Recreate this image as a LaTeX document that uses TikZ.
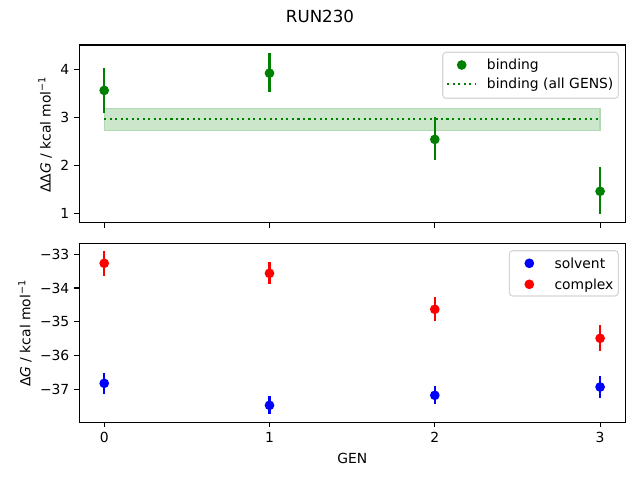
\documentclass[tikz,border=0pt]{standalone}
\usepackage{fontspec}
\setmainfont{DejaVu Sans}
\definecolor{mplgreen}{RGB}{0,128,0}
\definecolor{mplblue}{RGB}{0,0,255}
\definecolor{mplred}{RGB}{255,0,0}
\definecolor{bandfill}{RGB}{204,230,204}
\definecolor{bandedge}{RGB}{178,217,178}
\definecolor{legedge}{RGB}{214,214,214}
\begin{document}
\begin{tikzpicture}[x=0.72pt,y=-0.72pt,
  font=\fontsize{10}{12}\selectfont,
  tl/.style={inner sep=0pt},
  axframe/.style={line width=0.8pt,draw=black},
  tickmark/.style={line width=0.8pt},
  ebar/.style={line width=1.5pt},
  dotmark/.style={circle,inner sep=0pt,minimum size=7pt},
  legbox/.style={draw=legedge,fill=white,rounded corners=2.5pt,line width=0.8pt}]
\useasboundingbox (0,0) rectangle (640,480);

% title
\node[tl,anchor=north,font=\fontsize{12}{14}\selectfont] (title) at (320,10) {RUN230};

% ---------------- top axes ----------------
\fill[bandfill] (104.2,108.2) rectangle (600.1,130.3);
\draw[bandedge,line width=1pt] (104.2,108.2) rectangle (600.1,130.3);
\draw[mplgreen,line width=1.5pt,dash pattern=on 1.5pt off 2.475pt] (104.2,118.7) -- (600.1,118.7);

\foreach \n/\x/\y/\a/\b in {g0/104.2/90.4/68.3/112.5, g1/269.5/73.2/53.0/92.3, g2/434.8/139.4/117.3/159.6, g3/600.1/191.3/167.1/214.3}{
  \coordinate (\n t) at (\x,\a);
  \coordinate (\n b) at (\x,\b);
  \draw[mplgreen,ebar] (\n t) -- (\n b);
  \node[dotmark,fill=mplgreen] (\n) at (\x,\y) {};
}

\draw[axframe] (79.3,45) rectangle (625.3,222.7);
\foreach \x [count=\i] in {104.2,269.5,434.8,600.1}{
  \draw[tickmark] (\x,222.7) -- (\x,227.6);
}
\foreach \y/\l in {69.3/4,117.3/3,165.3/2,213.3/1}{
  \draw[tickmark] (79.3,\y) -- (74.4,\y);
  \node[tl,anchor=east] (ty\l) at (69.6,\y) {\l};
}
\node[tl,rotate=90,anchor=base] (ylabtop) at (50.5,134.5) {ΔΔ\textit{G} / kcal mol\textsuperscript{−1}};

% legend top
\draw[legbox] (442.7,52.3) rectangle (618.3,98.3);
\node[dotmark,fill=mplgreen] (lgbind) at (461.7,65) {};
\node[tl,anchor=base west] (ltbind) at (486.7,69.5) {binding};
\coordinate (lls) at (447.3,84);
\coordinate (lle) at (475.3,84);
\draw[mplgreen,line width=1.5pt,dash pattern=on 1.5pt off 2.475pt] (lls) -- (lle);
\node[tl,anchor=base west] (ltall) at (486.7,88.5) {binding (all GENS)};

% ---------------- bottom axes ----------------
\foreach \n/\x/\y/\a/\b in {c0/104.2/263.3/251.0/275.7, c1/269.5/273.3/262.0/283.7, c2/434.8/309.3/297.0/320.7, c3/600.1/338.3/325.0/350.7}{
  \coordinate (\n t) at (\x,\a);
  \coordinate (\n b) at (\x,\b);
  \draw[mplred,ebar] (\n t) -- (\n b);
  \node[dotmark,fill=mplred] (\n) at (\x,\y) {};
}
\foreach \n/\x/\y/\a/\b in {s0/104.2/383.3/373.0/393.7, s1/269.5/405.3/396.0/413.7, s2/434.8/395.3/386.0/403.7, s3/600.1/387.0/376.0/397.7}{
  \coordinate (\n t) at (\x,\a);
  \coordinate (\n b) at (\x,\b);
  \draw[mplblue,ebar] (\n t) -- (\n b);
  \node[dotmark,fill=mplblue] (\n) at (\x,\y) {};
}

\draw[axframe] (79.3,243.7) rectangle (625.3,422.3);
\foreach \x/\l in {104.2/0,269.5/1,434.8/2,600.1/3}{
  \draw[tickmark] (\x,422.3) -- (\x,427.2);
  \node[tl,anchor=north] (tx\l) at (\x,432.4) {\l};
}
\foreach \y/\l in {254.3/33,288.05/34,321.8/35,355.55/36,389.3/37}{
  \draw[tickmark] (79.3,\y) -- (74.4,\y);
  \node[tl,anchor=east] (tb\l) at (69.6,\y) {−\l};
}
\node[tl,anchor=north] (xlab) at (352.3,452.7) {GEN};
\node[tl,rotate=90,anchor=base] (ylabbot) at (30.5,333.3) {Δ\textit{G} / kcal mol\textsuperscript{−1}};

% legend bottom
\draw[legbox] (509.3,250.7) rectangle (618.3,296);
\node[dotmark,fill=mplblue] (lgsol) at (529.3,263.3) {};
\node[tl,anchor=base west] (ltsol) at (554.3,268) {solvent};
\node[dotmark,fill=mplred] (lgcom) at (529.3,284.3) {};
\node[tl,anchor=base west] (ltcom) at (554.3,289) {complex};
\end{tikzpicture}
\end{document}
